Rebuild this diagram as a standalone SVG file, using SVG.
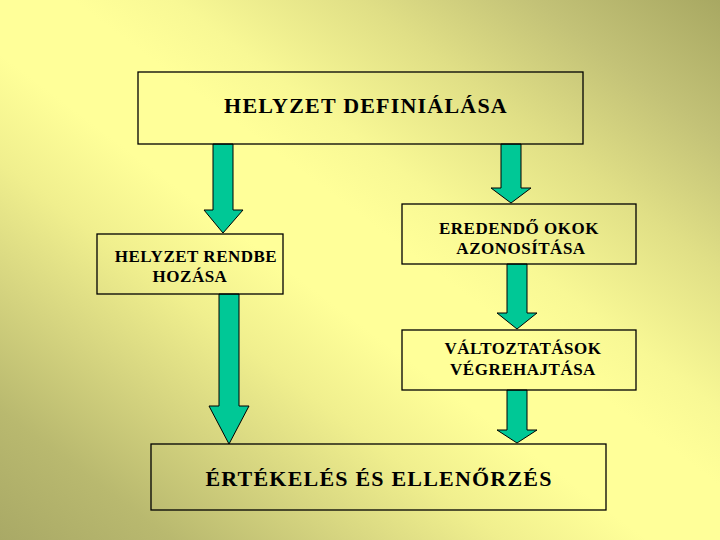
<svg xmlns="http://www.w3.org/2000/svg" width="720" height="540" viewBox="0 0 720 540">
<defs>
<linearGradient id="bg" x1="1" y1="0" x2="0" y2="1" gradientUnits="objectBoundingBox">
<stop offset="0" stop-color="#A8A862"/>
<stop offset="0.13" stop-color="#C3C277"/>
<stop offset="0.25" stop-color="#E0DF86"/>
<stop offset="0.38" stop-color="#F8F895"/>
<stop offset="0.45" stop-color="#FFFF99"/>
<stop offset="0.55" stop-color="#FFFF99"/>
<stop offset="0.65" stop-color="#F0EF8E"/>
<stop offset="0.76" stop-color="#D6D580"/>
<stop offset="0.88" stop-color="#B9B96F"/>
<stop offset="1" stop-color="#A9A966"/>
</linearGradient>
<style>
.box{fill:none;stroke:#000;stroke-width:1.3}
.arr{fill:#00C896;stroke:#000;stroke-width:1}
.big{font-weight:bold;font-size:22px;letter-spacing:1.2px;fill:#000;text-anchor:middle}
.sm{font-weight:bold;font-size:17px;letter-spacing:0.5px;fill:#000;text-anchor:middle}
</style>
</defs>
<rect x="0" y="0" width="720" height="540" fill="url(#bg)"/>
<g id="connectors">
<polygon class="arr" points="213,144 233,144 233,210 243,210 223,233 204,210 213,210"/>
<polygon class="arr" points="501,144 521,144 521,188 531,188 511,203 491,188 501,188"/>
<polygon class="arr" points="507,264 527,264 527,313 537,313 517,329 497,313 507,313"/>
<polygon class="arr" points="507,390 527,390 527,430 537,430 517,443 497,430 507,430"/>
<polygon class="arr" points="219,294 239,294 239,406 249,406 229,444 209,406 219,406"/>
</g>
<g font-family="Liberation Serif, DejaVu Serif, serif">
<g id="node-definialasa">
<rect class="box" x="138" y="72" width="445" height="72"/>
<text class="big" x="366" y="113">HELYZET DEFINIÁLÁSA</text>
</g>
<g id="node-rendbe">
<rect class="box" x="97" y="234" width="186" height="60"/>
<text class="sm" x="196" y="262">HELYZET RENDBE</text>
<text class="sm" x="190" y="282">HOZÁSA</text>
</g>
<g id="node-okok">
<rect class="box" x="402" y="204" width="234" height="60"/>
<text class="sm" x="519" y="234">EREDENDŐ OKOK</text>
<text class="sm" x="521" y="254">AZONOSÍTÁSA</text>
</g>
<g id="node-valtoztatasok">
<rect class="box" x="402" y="330" width="234" height="60"/>
<text class="sm" x="523" y="354">VÁLTOZTATÁSOK</text>
<text class="sm" x="523" y="375">VÉGREHAJTÁSA</text>
</g>
<g id="node-ertekeles">
<rect class="box" x="151" y="444" width="455" height="66"/>
<text class="big" x="379" y="486">ÉRTÉKELÉS ÉS ELLENŐRZÉS</text>
</g>
</g>
</svg>
